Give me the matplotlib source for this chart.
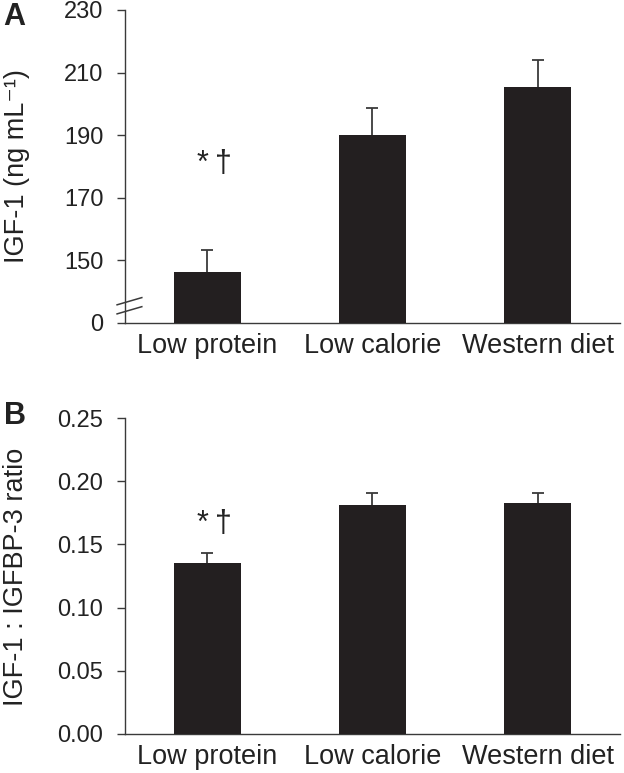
import matplotlib.pyplot as plt

plt.rcParams['font.family'] = ['Liberation Sans', 'DejaVu Sans']

diets = ['Low protein', 'Low calorie', 'Western diet']
igf1_mean = [146.3, 190.0, 205.5]
igf1_se = [7.0, 8.6, 8.6]
ratio_mean = [0.135, 0.181, 0.183]
ratio_se = [0.008, 0.010, 0.0075]

# panel A uses a broken axis: 0 is drawn where 130 would be
break_base = 130
a_ticks = [130, 150, 170, 190, 210, 230]
a_ticklabels = ['0', '150', '170', '190', '210', '230']
b_ticks = [0, 0.05, 0.10, 0.15, 0.20, 0.25]
b_ticklabels = ['0.00', '0.05', '0.10', '0.15', '0.20', '0.25']

bar_color = '#231f20'
line_color = '#3a3a3a'
text_color = '#222222'

fig = plt.figure(figsize=(6.24, 7.73), dpi=100)
axA = fig.add_axes([0.2003, 0.5822, 0.7933, 0.4049])
axB = fig.add_axes([0.2003, 0.0505, 0.7933, 0.4087])

x = list(range(len(diets)))


def style(ax):
    for s in ['top', 'right']:
        ax.spines[s].set_visible(False)
    for s in ['left', 'bottom']:
        ax.spines[s].set_color(line_color)
        ax.spines[s].set_linewidth(1.0)
    ax.tick_params(axis='y', direction='out', length=5.5, width=1.0,
                   color=line_color, pad=10, labelsize=17, labelcolor=text_color)
    ax.tick_params(axis='x', length=0, pad=7, labelsize=19.5, labelcolor=text_color)
    ax.set_xlim(-0.5, 2.5)
    ax.set_xticks(x)
    ax.set_xticklabels(diets)


def upper_errors(ax, means, errs):
    eb = ax.errorbar(x, means, yerr=[[0] * len(means), errs], fmt='none', zorder=2,
                     ecolor=line_color, elinewidth=1.3, capsize=4.5, capthick=1.3)
    # hide the caps that sit on the bar tops
    for cap in eb[1]:
        if list(cap.get_ydata()) == list(means):
            cap.set_visible(False)


# panel A
heights = [m - break_base for m in igf1_mean]
axA.bar(x, heights, bottom=break_base, width=0.41, color=bar_color, zorder=3)
upper_errors(axA, igf1_mean, igf1_se)
axA.set_ylim(break_base, 230)
axA.set_yticks(a_ticks)
axA.set_yticklabels(a_ticklabels)
style(axA)
axA.text(0.04, 178.3, '*\u2009†', ha='center', va='baseline', fontsize=22,
         color=text_color)

# break marks on the y axis
for y0 in [135.8, 132.9]:
    axA.plot([-0.016, 0.034], [y0, y0 + 2.3], transform=axA.get_yaxis_transform(),
             color=line_color, lw=1.1, clip_on=False)

# panel B
axB.bar(x, ratio_mean, width=0.41, color=bar_color, zorder=3)
upper_errors(axB, ratio_mean, ratio_se)
axB.set_ylim(0, 0.25)
axB.set_yticks(b_ticks)
axB.set_yticklabels(b_ticklabels)
style(axB)
axB.text(0.04, 0.160, '*\u2009†', ha='center', va='baseline', fontsize=22,
         color=text_color)

fig.text(17 / 624, 1 - 166 / 773, 'IGF-1 (ng mL⁻¹)', rotation=90,
         ha='center', va='center', fontsize=19.5, color=text_color)
fig.text(16 / 624, 1 - 577 / 773, 'IGF-1 : IGFBP-3 ratio', rotation=90,
         ha='center', va='center', fontsize=19.5, color=text_color)
fig.text(14 / 624, 1 - 17 / 773, 'A', ha='center', va='center',
         fontsize=22, fontweight='bold', color=text_color)
fig.text(15.5 / 624, 1 - 416 / 773, 'B', ha='center', va='center',
         fontsize=22, fontweight='bold', color=text_color)

fig.savefig('out.png', dpi=100)
